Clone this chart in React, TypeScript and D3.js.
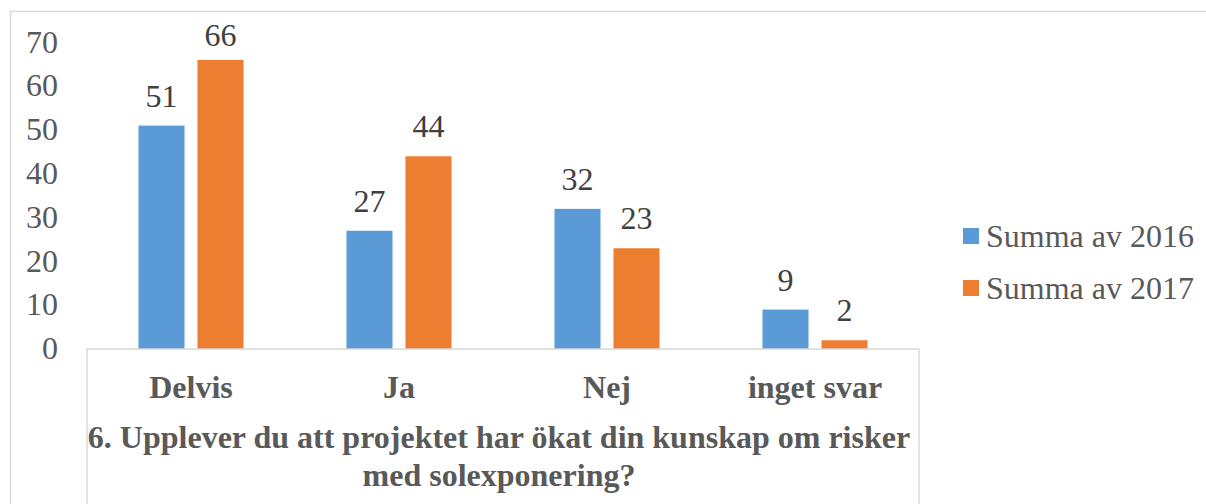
import * as d3 from 'd3';

const categories = ['Delvis', 'Ja', 'Nej', 'inget svar'];
const seriesNames = ['Summa av 2016', 'Summa av 2017'];
const values2016 = [51, 27, 32, 9];
const values2017 = [66, 44, 23, 2];
const yTicks = [0, 10, 20, 30, 40, 50, 60, 70];
const titleLines = ['6. Upplever du att projektet har ökat din kunskap om risker', 'med solexponering?'];

const colors = ['#5B9BD5', '#ED7D31'];
const font = '"Liberation Serif", "Times New Roman", serif';

const W = 1206;
const H = 504;
const plot = { left: 87, right: 919, top: 42.4, bottom: 349 };

const App = () => {
  const x0 = d3.scaleBand<string>()
    .domain(categories)
    .range([plot.left, plot.right])
    .paddingInner(0.495)
    .paddingOuter(0.2475);

  const x1 = d3.scaleBand<string>()
    .domain(seriesNames)
    .range([0, x0.bandwidth()])
    .paddingInner(0.22);

  const y = d3.scaleLinear().domain([0, 70]).range([plot.bottom, plot.top]);

  const series = [values2016, values2017];
  // title sits a touch left of the box centre in the original
  const cx = (plot.left + plot.right) / 2 - 4;

  return (
    <svg width={W} height={H} style={{ position: 'absolute', left: 0, top: 0, background: '#fff' }} fontFamily={font}>
      <rect x={10.5} y={11.5} width={W + 20} height={H + 20} fill="none" stroke="#d9d9d9" strokeWidth={1.5} />

      {/* y tick labels */}
      {yTicks.map((t) => (
        <text key={t} x={58} y={y(t) - 1} dy="0.35em" textAnchor="end" fontSize={32} fill="#595959">
          {t}
        </text>
      ))}

      {/* bars + labels */}
      {categories.map((c, i) => (
        <g key={c} transform={`translate(${x0(c)},0)`}>
          {seriesNames.map((s, j) => {
            const v = series[j][i];
            const bx = x1(s) as number;
            return (
              <g key={s}>
                <rect x={bx} y={y(v)} width={x1.bandwidth()} height={y(0) - y(v)} fill={colors[j]} />
                <text
                  x={bx + x1.bandwidth() / 2}
                  y={Math.max(y(v) - 19, 46)}
                  textAnchor="middle"
                  fontSize={32}
                  fill="#404040"
                >
                  {v}
                </text>
              </g>
            );
          })}
        </g>
      ))}

      {/* axis box */}
      <path
        d={`M${plot.left},${H} V${plot.bottom} H${plot.right} V${H}`}
        fill="none"
        stroke="#d9d9d9"
        strokeWidth={1.5}
      />

      {/* category labels */}
      {categories.map((c) => (
        <text
          key={c}
          x={(x0(c) as number) + x0.bandwidth() / 2}
          y={398}
          textAnchor="middle"
          fontSize={32}
          fontWeight="bold"
          fill="#595959"
        >
          {c}
        </text>
      ))}

      {/* axis title */}
      {titleLines.map((line, i) => (
        <text key={i} x={cx} y={448 + i * 38} textAnchor="middle" fontSize={32} fontWeight="bold" fill="#595959">
          {line}
        </text>
      ))}

      {/* legend */}
      {seriesNames.map((s, i) => (
        <g key={s} transform={`translate(963,${228 + i * 52})`}>
          <rect width={16} height={16} fill={colors[i]} />
          <text x={23} y={19} fontSize={32} fill="#595959">
            {s}
          </text>
        </g>
      ))}
    </svg>
  );
};

export default App;
